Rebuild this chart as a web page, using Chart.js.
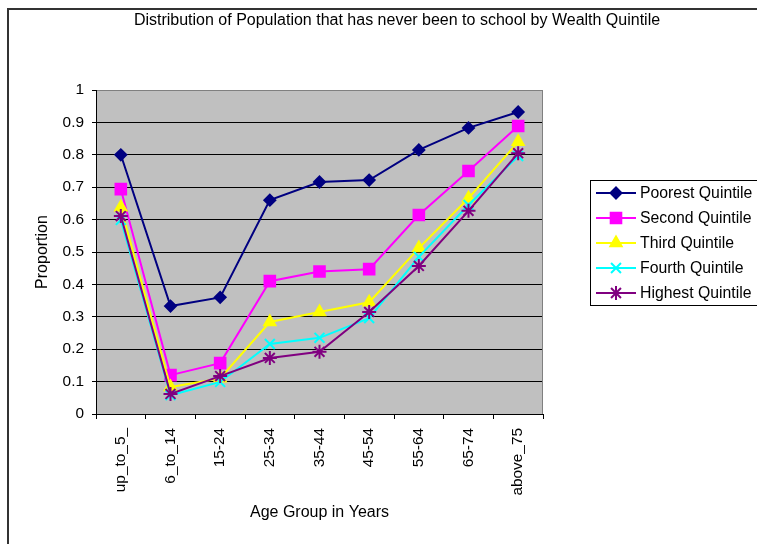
<!DOCTYPE html>
<html>
<head>
<meta charset="utf-8">
<script src="https://cdn.jsdelivr.net/npm/chart.js@4/dist/chart.umd.min.js"></script>
<style>
  html, body { margin: 0; padding: 0; background: #fff; }
  canvas { display: block; }
</style>
</head>
<body>
<canvas id="chart" width="757" height="544"></canvas>
<script>
const ageGroups = ["up_to_5_", "6_to_14", "15-24", "25-34", "35-44", "45-54", "55-64", "65-74", "above_75"]
const seriesNames = ["Poorest Quintile", "Second Quintile", "Third Quintile", "Fourth Quintile", "Highest Quintile"]
const poorest = [0.80, 0.333, 0.36, 0.66, 0.716, 0.722, 0.815, 0.883, 0.932]
const second = [0.694, 0.12, 0.157, 0.41, 0.44, 0.447, 0.614, 0.75, 0.889]
const third = [0.638, 0.083, 0.11, 0.284, 0.315, 0.345, 0.512, 0.666, 0.84]
const fourth = [0.599, 0.058, 0.099, 0.216, 0.235, 0.296, 0.485, 0.645, 0.796]
const highest = [0.611, 0.062, 0.117, 0.173, 0.192, 0.315, 0.457, 0.627, 0.805]

const FONT = "'Liberation Sans', Arial, sans-serif"
const TITLE_FS = 16
const TICK_FS = 15.4
const LEGEND_FS = 15.8

// excel-like look: grey plot area, frame, title and legend box
const excelLook = {
  id: "excelLook",
  beforeDraw(chart) {
    const { ctx, chartArea: a } = chart
    ctx.save()
    ctx.fillStyle = "#fff"
    ctx.fillRect(0, 0, chart.width, chart.height)
    ctx.fillStyle = "#c0c0c0"
    ctx.fillRect(a.left, a.top, a.right - a.left, a.bottom - a.top)
    ctx.strokeStyle = "#333"
    ctx.lineWidth = 2
    ctx.strokeRect(8, 9, 900, 700)
    ctx.fillStyle = "#000"
    ctx.font = TITLE_FS + "px " + FONT
    ctx.textAlign = "center"
    ctx.textBaseline = "middle"
    ctx.fillText("Distribution of Population that has never been to school by Wealth Quintile", 397, 21)
    ctx.restore()
  },
  beforeDatasetsDraw(chart) {
    const { ctx, chartArea: a } = chart
    ctx.save()
    ctx.strokeStyle = "#808080"
    ctx.lineWidth = 1
    ctx.beginPath()
    ctx.moveTo(a.right - 0.5, a.top)
    ctx.lineTo(a.right - 0.5, a.bottom)
    ctx.stroke()
    ctx.restore()
  },
  afterDraw(chart) {
    const ctx = chart.ctx
    ctx.save()
    ctx.strokeStyle = "#000"
    ctx.lineWidth = 1
    ctx.strokeRect(590.5, 180.5, 175, 125)
    ctx.font = LEGEND_FS + "px " + FONT
    ctx.textAlign = "left"
    ctx.textBaseline = "middle"
    chart.data.datasets.forEach((ds, i) => {
      const y = 193 + i * 25
      ctx.strokeStyle = ds.borderColor
      ctx.lineWidth = 2
      ctx.beginPath()
      ctx.moveTo(596, y)
      ctx.lineTo(636, y)
      ctx.stroke()
      ctx.fillStyle = ds.backgroundColor
      Chart.helpers.drawPoint(ctx, { pointStyle: ds.pointStyle, radius: ds.pointRadius, borderWidth: 2, rotation: 0 }, 616, y)
      ctx.fillStyle = "#000"
      ctx.fillText(seriesNames[i], 640, y + 1)
    })
    ctx.restore()
  }
}

const colors = ["#000080", "#ff00ff", "#ffff00", "#00ffff", "#800080"]
const styles = ["rectRot", "rect", "triangle", "crossRot", "star"]
const radii = [5.5, 7.5, 6.5, 7, 7]
const values = [poorest, second, third, fourth, highest]

new Chart(document.getElementById("chart"), {
  type: "line",
  data: {
    labels: ageGroups,
    datasets: values.map((v, i) => ({
      label: seriesNames[i],
      data: v,
      borderColor: colors[i],
      backgroundColor: colors[i],
      borderWidth: 2,
      pointStyle: styles[i],
      pointRadius: radii[i],
      pointBorderWidth: 2,
      tension: 0,
      order: 5 - i
    }))
  },
  options: {
    responsive: false,
    animation: false,
    devicePixelRatio: 1,
    layout: { padding: { left: 0, top: 90, right: 214, bottom: 0 } },
    plugins: {
      legend: { display: false },
      tooltip: { enabled: false }
    },
    scales: {
      x: {
        offset: true,
        afterFit: s => { s.height = 130 },
        grid: { offset: true, drawOnChartArea: false, tickLength: 5, tickColor: "#000" },
        border: { color: "#000", width: 1 },
        ticks: { autoSkip: false, maxRotation: 90, minRotation: 90, padding: 9, color: "#000", font: { family: FONT, size: TICK_FS } },
        title: { display: true, text: "Age Group in Years", color: "#000", font: { family: FONT, size: TITLE_FS }, padding: { top: 0, bottom: 22 } }
      },
      y: {
        min: 0,
        max: 1,
        afterFit: s => { s.width = 96 },
        grid: {
          color: c => (c.tick && c.tick.value === 1 ? "#808080" : "#000"),
          tickColor: "#000",
          tickLength: 4
        },
        border: { color: "#000", width: 1 },
        ticks: {
          stepSize: 0.1,
          padding: 8,
          color: "#000",
          font: { family: FONT, size: TICK_FS },
          callback: v => String(Math.round(v * 10) / 10)
        },
        title: { display: true, text: "Proportion", color: "#000", font: { family: FONT, size: TITLE_FS }, padding: { top: 33, bottom: 0 } }
      }
    }
  },
  plugins: [excelLook]
})
</script>
</body>
</html>
